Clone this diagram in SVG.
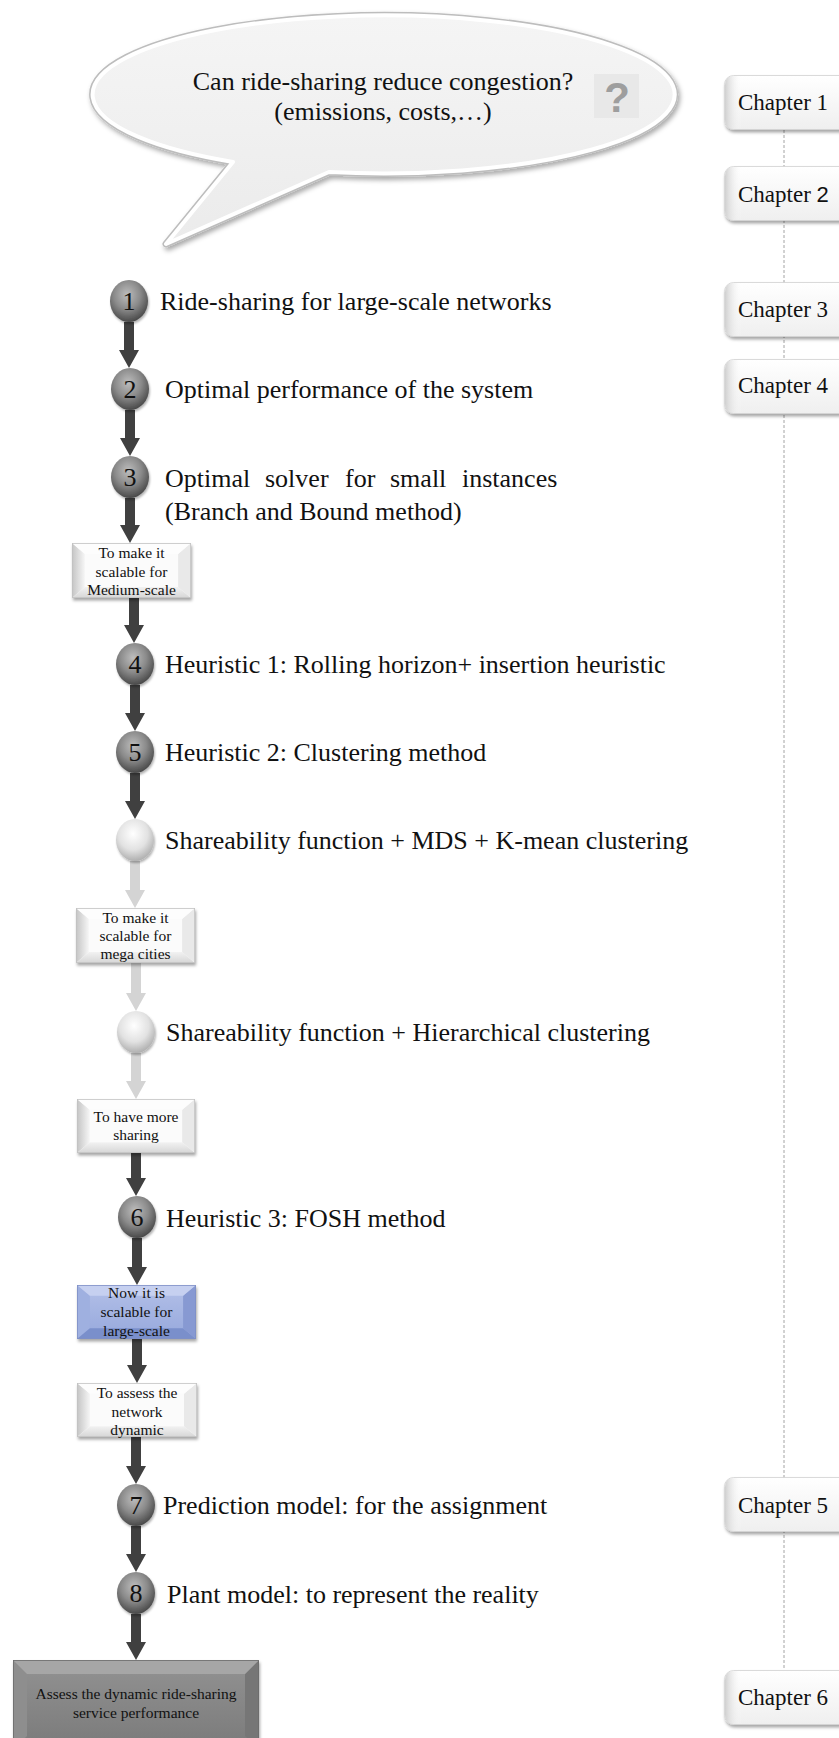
<svg xmlns="http://www.w3.org/2000/svg" xmlns:xlink="http://www.w3.org/1999/xlink" width="839" height="1738" viewBox="0 0 839 1738">
<style>
.t{font-family:"Liberation Serif","Times New Roman",serif;font-size:26px;fill:#111}
.bt{font-family:"Liberation Serif","Times New Roman",serif;font-size:15.5px;fill:#111;text-anchor:middle}
.num{font-family:"Liberation Serif","Times New Roman",serif;font-size:26px;fill:#111;text-anchor:middle}
.ch{font-family:"Liberation Serif","Times New Roman",serif;font-size:23px;fill:#111}
.arD{fill:#404040}
.arL{fill:#d4d4d4}
.sphD{fill:url(#gSphD);filter:url(#shS)}
.sphL{fill:url(#gSphL);filter:url(#shS)}
.dash{stroke:#9a9a9a;stroke-width:0.9;stroke-dasharray:3 2;fill:none}
</style>
<defs>
<filter id="sh" x="-10%" y="-10%" width="130%" height="140%">
<feDropShadow dx="1" dy="2.5" stdDeviation="1.6" flood-color="#000" flood-opacity="0.35"/>
</filter>
<filter id="shS" x="-20%" y="-20%" width="150%" height="150%">
<feDropShadow dx="1" dy="2" stdDeviation="1.2" flood-color="#000" flood-opacity="0.3"/>
</filter>
<filter id="shB" x="-5%" y="-10%" width="115%" height="130%">
<feDropShadow dx="2" dy="3" stdDeviation="2.5" flood-color="#000" flood-opacity="0.35"/>
</filter>
<radialGradient id="gSphD" cx="45%" cy="35%" r="70%">
<stop offset="0" stop-color="#bdbdbd"/>
<stop offset="0.5" stop-color="#8a8a8a"/>
<stop offset="1" stop-color="#3e3e3e"/>
</radialGradient>
<radialGradient id="gSphL" cx="45%" cy="35%" r="70%">
<stop offset="0" stop-color="#ffffff"/>
<stop offset="0.55" stop-color="#e2e2e2"/>
<stop offset="1" stop-color="#a6a6a6"/>
</radialGradient>
<linearGradient id="gBub" x1="0" y1="0" x2="0" y2="1">
<stop offset="0" stop-color="#f5f5f5"/>
<stop offset="1" stop-color="#ebebeb"/>
</linearGradient>
<linearGradient id="gL" x1="0" y1="0" x2="1" y2="0">
<stop offset="0" stop-color="#c4c4c4"/>
<stop offset="1" stop-color="#f6f6f6"/>
</linearGradient>
<linearGradient id="gBt" x1="0" y1="0" x2="0" y2="1">
<stop offset="0" stop-color="#f2f2f2"/>
<stop offset="1" stop-color="#d6d6d6"/>
</linearGradient>
<linearGradient id="gBlue" x1="0" y1="0" x2="0" y2="1">
<stop offset="0" stop-color="#b3c0e8"/>
<stop offset="1" stop-color="#96a8dc"/>
</linearGradient>
<linearGradient id="gGray" x1="0" y1="0" x2="0" y2="1">
<stop offset="0" stop-color="#929292"/>
<stop offset="1" stop-color="#7a7a7a"/>
</linearGradient>
<linearGradient id="gCh" x1="0" y1="0" x2="0" y2="1">
<stop offset="0" stop-color="#ffffff"/>
<stop offset="1" stop-color="#efefef"/>
</linearGradient>
<linearGradient id="gChL" x1="0" y1="0" x2="1" y2="0">
<stop offset="0" stop-color="#d0d0d0"/>
<stop offset="1" stop-color="#ffffff" stop-opacity="0"/>
</linearGradient>
<symbol id="box" viewBox="0 0 120 55" preserveAspectRatio="none">
<rect width="120" height="55" fill="#fbfbfb"/>
<polygon points="0,0 13,11 13,44 0,55" fill="url(#gL)"/>
<polygon points="0,55 13,44 107,44 120,55" fill="url(#gBt)"/>
<polygon points="120,0 107,11 107,44 120,55" fill="#e9e9e9"/>
<polygon points="0,0 120,0 107,11 13,11" fill="#fdfdfd"/>
<rect x="0.4" y="0.4" width="119.2" height="54.2" fill="none" stroke="#c2c2c2" stroke-width="0.8"/>
</symbol>
<symbol id="boxBlue" viewBox="0 0 120 55" preserveAspectRatio="none">
<rect width="120" height="55" fill="url(#gBlue)"/>
<polygon points="0,0 13,11 13,44 0,55" fill="#9fb0e0"/>
<polygon points="0,55 13,44 107,44 120,55" fill="#7a8fcb"/>
<polygon points="120,0 107,11 107,44 120,55" fill="#8799d2"/>
<polygon points="0,0 120,0 107,11 13,11" fill="#c6d0f0"/>
<rect x="0.4" y="0.4" width="119.2" height="54.2" fill="none" stroke="#7f90c6" stroke-width="0.8"/>
</symbol>
<symbol id="boxGray" viewBox="0 0 246 90" preserveAspectRatio="none">
<rect width="246" height="90" fill="url(#gGray)"/>
<polygon points="0,0 14,14 14,76 0,90" fill="#8e8e8e"/>
<polygon points="246,0 232,14 232,76 246,90" fill="#767676"/>
<polygon points="0,0 246,0 232,14 14,14" fill="#a6a6a6"/>
<rect x="0.4" y="0.4" width="245.2" height="89.2" fill="none" stroke="#6c6c6c" stroke-width="0.8"/>
</symbol>
<symbol id="chap" viewBox="0 0 130 55" preserveAspectRatio="none">
<rect x="0.5" y="0.5" width="140" height="54" rx="9" fill="url(#gCh)" stroke="#d2d2d2" stroke-width="0.8"/>
<path d="M1,10 Q1,1 10,1 L18,1 L18,54 L10,54 Q1,54 1,45 Z" fill="url(#gChL)"/>
</symbol>
</defs>

<rect width="839" height="1738" fill="#ffffff"/>

<g id="timeline">
<line class="dash" x1="784" y1="130" x2="784" y2="1670"/>
</g>

<g id="bubble">
<path d="M233,162 L166,244 L329,172 A291,79 0 1 0 233,162 Z" fill="none" stroke="#bdbdbd" stroke-width="7" stroke-linejoin="round" filter="url(#shB)"/>
<path d="M233,162 L166,244 L329,172 A291,79 0 1 0 233,162 Z" fill="url(#gBub)" stroke="#ffffff" stroke-width="4" stroke-linejoin="round"/>
<text class="t" x="383" y="90" text-anchor="middle">Can ride-sharing reduce congestion?</text>
<text class="t" x="383" y="120" text-anchor="middle">(emissions, costs,…)</text>
<rect x="594" y="74" width="45" height="44" fill="#e8e8e8"/>
<text x="617" y="112" text-anchor="middle" font-family="'Liberation Sans',Arial,sans-serif" font-size="42" font-weight="bold" fill="#9e9e9e">?</text>
</g>

<g id="connectors">
<polygon class="arD" points="124,322 134,322 134,350 139,350 129,368 119,350 124,350"/>
<polygon class="arD" points="125,410 135,410 135,438 140,438 130,456 120,438 125,438"/>
<polygon class="arD" points="125,498 135,498 135,525 140,525 130,543 120,525 125,525"/>
<polygon class="arD" points="129,598 139,598 139,625 144,625 134,643 124,625 129,625"/>
<polygon class="arD" points="130,685 140,685 140,713 145,713 135,731 125,713 130,713"/>
<polygon class="arD" points="130,773 140,773 140,801 145,801 135,819 125,801 130,801"/>
<polygon class="arL" points="130,861 140,861 140,890 145,890 135,908 125,890 130,890"/>
<polygon class="arL" points="131,963 141,963 141,993 146,993 136,1011 126,993 131,993"/>
<polygon class="arL" points="131,1053 141,1053 141,1081 146,1081 136,1099 126,1081 131,1081"/>
<polygon class="arD" points="131,1153 141,1153 141,1178 146,1178 136,1196 126,1178 131,1178"/>
<polygon class="arD" points="132,1238 142,1238 142,1267 147,1267 137,1285 127,1267 132,1267"/>
<polygon class="arD" points="132,1339 142,1339 142,1365 147,1365 137,1383 127,1365 132,1365"/>
<polygon class="arD" points="131,1437 141,1437 141,1466 146,1466 136,1484 126,1466 131,1466"/>
<polygon class="arD" points="131,1526 141,1526 141,1554 146,1554 136,1572 126,1554 131,1554"/>
<polygon class="arD" points="131,1614 141,1614 141,1642 146,1642 136,1660 126,1642 131,1642"/>
</g>

<g id="step1">
<ellipse class="sphD" cx="129" cy="301" rx="19" ry="21"/>
<text class="num" x="129" y="310">1</text>
<text class="t" x="160" y="310">Ride-sharing for large-scale networks</text>
</g>
<g id="step2">
<ellipse class="sphD" cx="130" cy="389" rx="19" ry="21"/>
<text class="num" x="130" y="398">2</text>
<text class="t" x="165" y="398">Optimal performance of the system</text>
</g>
<g id="step3">
<ellipse class="sphD" cx="130" cy="477" rx="19" ry="21"/>
<text class="num" x="130" y="486">3</text>
<text class="t" y="487"><tspan x="165">Optimal</tspan><tspan x="265">solver</tspan><tspan x="345">for</tspan><tspan x="390">small</tspan><tspan x="462">instances</tspan></text>
<text class="t" x="165" y="520">(Branch and Bound method)</text>
</g>
<g id="box-medium">
<use xlink:href="#box" href="#box" x="72" y="543" width="119" height="55" filter="url(#sh)"/>
<text class="bt" x="131.5" y="558">To make it</text>
<text class="bt" x="131.5" y="577">scalable for</text>
<text class="bt" x="131.5" y="595">Medium-scale</text>
</g>
<g id="step4">
<ellipse class="sphD" cx="135" cy="664" rx="19" ry="21"/>
<text class="num" x="135" y="673">4</text>
<text class="t" x="165" y="673">Heuristic 1: Rolling horizon+ insertion heuristic</text>
</g>
<g id="step5">
<ellipse class="sphD" cx="135" cy="752" rx="19" ry="21"/>
<text class="num" x="135" y="761">5</text>
<text class="t" x="165" y="761">Heuristic 2: Clustering method</text>
</g>
<g id="step-mds">
<ellipse class="sphL" cx="135" cy="840" rx="19" ry="21"/>
<text class="t" x="165" y="849">Shareability function + MDS + K-mean clustering</text>
</g>
<g id="box-mega">
<use xlink:href="#box" href="#box" x="76" y="908" width="119" height="55" filter="url(#sh)"/>
<text class="bt" x="135.5" y="923">To make it</text>
<text class="bt" x="135.5" y="941">scalable for</text>
<text class="bt" x="135.5" y="959">mega cities</text>
</g>
<g id="step-hier">
<ellipse class="sphL" cx="136" cy="1032" rx="19" ry="21"/>
<text class="t" x="166" y="1041">Shareability function + Hierarchical clustering</text>
</g>
<g id="box-sharing">
<use xlink:href="#box" href="#box" x="77" y="1099" width="118" height="54" filter="url(#sh)"/>
<text class="bt" x="136" y="1122">To have more</text>
<text class="bt" x="136" y="1140">sharing</text>
</g>
<g id="step6">
<ellipse class="sphD" cx="137" cy="1217" rx="19" ry="21"/>
<text class="num" x="137" y="1226">6</text>
<text class="t" x="166" y="1227">Heuristic 3: FOSH method</text>
</g>
<g id="box-large">
<use xlink:href="#boxBlue" href="#boxBlue" x="77" y="1285" width="119" height="54" filter="url(#sh)"/>
<text class="bt" x="136.5" y="1298">Now it is</text>
<text class="bt" x="136.5" y="1317">scalable for</text>
<text class="bt" x="136.5" y="1336">large-scale</text>
</g>
<g id="box-dynamic">
<use xlink:href="#box" href="#box" x="77" y="1383" width="120" height="54" filter="url(#sh)"/>
<text class="bt" x="137" y="1398">To assess the</text>
<text class="bt" x="137" y="1417">network</text>
<text class="bt" x="137" y="1435">dynamic</text>
</g>
<g id="step7">
<ellipse class="sphD" cx="136" cy="1505" rx="19" ry="21"/>
<text class="num" x="136" y="1514">7</text>
<text class="t" x="163" y="1514">Prediction model: for the assignment</text>
</g>
<g id="step8">
<ellipse class="sphD" cx="136" cy="1593" rx="19" ry="21"/>
<text class="num" x="136" y="1602">8</text>
<text class="t" x="167" y="1603">Plant model: to represent the reality</text>
</g>
<g id="box-assess">
<use xlink:href="#boxGray" href="#boxGray" x="13" y="1660" width="246" height="90" filter="url(#sh)"/>
<text class="bt" x="136" y="1699">Assess the dynamic ride-sharing</text>
<text class="bt" x="136" y="1718">service performance</text>
</g>

<g id="chapter1">
<use xlink:href="#chap" href="#chap" x="724" y="75" width="130" height="55" filter="url(#sh)"/>
<text class="ch" x="738" y="110">Chapter 1</text>
</g>
<g id="chapter2">
<use xlink:href="#chap" href="#chap" x="724" y="166" width="130" height="55" filter="url(#sh)"/>
<text class="ch" x="738" y="202">Chapter <tspan font-family="'Liberation Sans',Arial,sans-serif" font-size="22">2</tspan></text>
</g>
<g id="chapter3">
<use xlink:href="#chap" href="#chap" x="724" y="282" width="130" height="55" filter="url(#sh)"/>
<text class="ch" x="738" y="317">Chapter 3</text>
</g>
<g id="chapter4">
<use xlink:href="#chap" href="#chap" x="724" y="359" width="130" height="55" filter="url(#sh)"/>
<text class="ch" x="738" y="393">Chapter 4</text>
</g>
<g id="chapter5">
<use xlink:href="#chap" href="#chap" x="724" y="1477" width="130" height="55" filter="url(#sh)"/>
<text class="ch" x="738" y="1513">Chapter 5</text>
</g>
<g id="chapter6">
<use xlink:href="#chap" href="#chap" x="724" y="1670" width="130" height="55" filter="url(#sh)"/>
<text class="ch" x="738" y="1705">Chapter 6</text>
</g>
</svg>
